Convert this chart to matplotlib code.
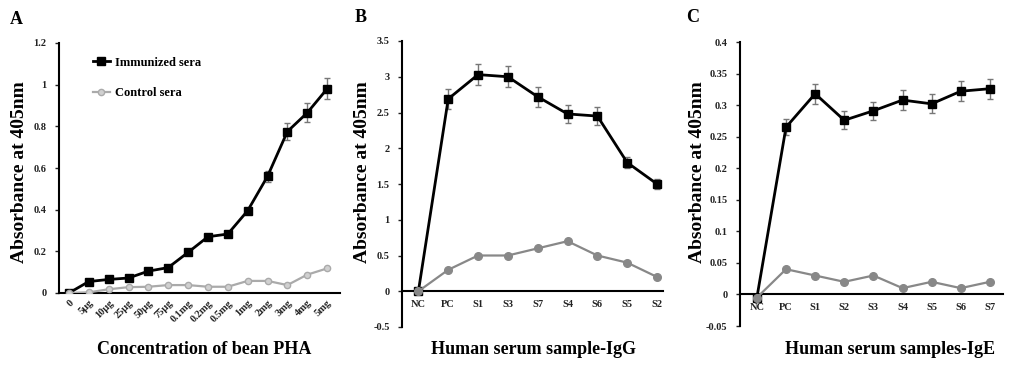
import numpy as np
import matplotlib
matplotlib.use("Agg")
import matplotlib.pyplot as plt

plt.rcParams['font.family'] = ['Liberation Serif', 'DejaVu Serif']
plt.rcParams['font.weight'] = 'bold'

# Panel A: concentration of bean PHA
conc_labels = ["0", "5μg", "10μg", "25μg", "50μg", "75μg", "0.1mg", "0.2mg",
               "0.5mg", "1mg", "2mg", "3mg", "4mg", "5mg"]
a_immunized = [0.0, 0.055, 0.065, 0.072, 0.105, 0.122, 0.195, 0.27, 0.283,
               0.395, 0.56, 0.775, 0.865, 0.98]
a_immunized_err = [0.004, 0.006, 0.006, 0.006, 0.008, 0.008, 0.008, 0.008, 0.008,
                   0.015, 0.025, 0.04, 0.045, 0.05]
a_control = [0.0, 0.003, 0.018, 0.028, 0.03, 0.038, 0.038, 0.03, 0.03,
             0.058, 0.058, 0.038, 0.088, 0.118]

# Panel B: IgG
igg_labels = ["NC", "PC", "S1", "S3", "S7", "S4", "S6", "S5", "S2"]
b_immunized = [0.0, 2.69, 3.03, 3.0, 2.72, 2.48, 2.45, 1.8, 1.5]
b_immunized_err = [0.0, 0.14, 0.15, 0.15, 0.14, 0.12, 0.12, 0.08, 0.07]
b_control = [0.0, 0.3, 0.5, 0.5, 0.6, 0.7, 0.5, 0.4, 0.2]

# Panel C: IgE
ige_labels = ["NC", "PC", "S1", "S2", "S3", "S4", "S5", "S6", "S7"]
c_immunized = [-0.005, 0.265, 0.318, 0.276, 0.291, 0.308, 0.302, 0.322, 0.326]
c_immunized_err = [0.0, 0.013, 0.016, 0.014, 0.014, 0.016, 0.015, 0.016, 0.016]
c_control = [-0.005, 0.04, 0.03, 0.02, 0.03, 0.01, 0.02, 0.01, 0.02]

W, H = 1013, 366
fig = plt.figure(figsize=(W / 100, H / 100), dpi=100)


def px_axes(left, right, top, bottom):
    return fig.add_axes([left / W, 1 - bottom / H, (right - left) / W, (bottom - top) / H])


def style_axes(ax):
    ax.spines['top'].set_visible(False)
    ax.spines['right'].set_visible(False)
    ax.spines['left'].set_linewidth(1.5)
    ax.spines['bottom'].set_linewidth(1.5)
    ax.tick_params(axis='y', length=3, width=1, labelsize=7.5, colors='#222222', pad=6)
    ax.tick_params(axis='x', length=0, labelsize=7.5, colors='#222222')
    for t in ax.get_xticklabels() + ax.get_yticklabels():
        t.set_fontweight('bold')


def draw(ax, labels, imm, imm_err, ctrl, ctrl_color, ctrl_face, ctrl_ms):
    x = np.arange(len(labels))
    ax.errorbar(x, imm, yerr=imm_err, fmt='none', ecolor='#777777', elinewidth=1,
                capsize=2.5, capthick=1, zorder=2)
    ax.plot(x, imm, color='black', lw=2, marker='s', ms=6, zorder=3,
            label='Immunized sera')
    ax.plot(x, ctrl, color=ctrl_color, lw=1.6, marker='o', ms=ctrl_ms,
            markerfacecolor=ctrl_face, markeredgecolor=ctrl_color, zorder=4,
            label='Control sera')
    ax.set_xticks(x)
    ax.set_xticklabels(labels)
    return x


# A
axA = px_axes(59, 340, 43, 293)
draw(axA, conc_labels, a_immunized, a_immunized_err, a_control, '#aaaaaa', '#d0d0d0', 4.5)
axA.set_xlim(-0.5, 13.65)
axA.set_ylim(0, 1.2)
axA.set_yticks([0, 0.2, 0.4, 0.6, 0.8, 1, 1.2])
axA.set_yticklabels(["0", "0.2", "0.4", "0.6", "0.8", "1", "1.2"])
style_axes(axA)
plt.setp(axA.get_xticklabels(), rotation=45, ha='right', rotation_mode='anchor')
axA.tick_params(axis='x', pad=4)
axA.legend(loc='upper left', bbox_to_anchor=(0.08, 0.99), frameon=False,
           prop={'family': 'Liberation Serif', 'weight': 'bold', 'size': 9},
           labelspacing=1.5, handlelength=1.4, handletextpad=0.4)

# B
axB = px_axes(402, 663, 41, 327)
draw(axB, igg_labels, b_immunized, b_immunized_err, b_control, '#888888', '#888888', 5.5)
axB.set_xlim(-0.55, 8.2)
axB.set_ylim(-0.5, 3.5)
axB.set_yticks([-0.5, 0, 0.5, 1, 1.5, 2, 2.5, 3, 3.5])
axB.set_yticklabels(["-0.5", "0", "0.5", "1", "1.5", "2", "2.5", "3", "3.5"])
axB.spines['bottom'].set_position(('data', 0))
style_axes(axB)
axB.tick_params(axis='x', pad=6)

# C
axC = px_axes(740, 1003, 42, 326)
draw(axC, ige_labels, c_immunized, c_immunized_err, c_control, '#888888', '#888888', 5.5)
axC.set_xlim(-0.58, 8.45)
axC.set_ylim(-0.05, 0.4)
axC.set_yticks([-0.05, 0, 0.05, 0.1, 0.15, 0.2, 0.25, 0.3, 0.35, 0.4])
axC.set_yticklabels(["-0.05", "0", "0.05", "0.1", "0.15", "0.2", "0.25", "0.3", "0.35", "0.4"])
axC.spines['bottom'].set_position(('data', 0))
style_axes(axC)
axC.tick_params(axis='x', pad=6)

# axis labels and panel letters
ylab = dict(fontsize=14, fontweight='bold', rotation=90, ha='center', va='center')
fig.text(20 / W, 1 - 172 / H, "Absorbance at 405nm", **ylab)
fig.text(362 / W, 1 - 172 / H, "Absorbance at 405nm", **ylab)
fig.text(697 / W, 1 - 172 / H, "Absorbance at 405nm", **ylab)

xlab = dict(fontsize=13, fontweight='bold', ha='center', va='center')
fig.text(204 / W, 1 - 350 / H, "Concentration of bean PHA", **xlab)
fig.text(533 / W, 1 - 350 / H, "Human serum sample-IgG", **xlab)
fig.text(890 / W, 1 - 350 / H, "Human serum samples-IgE", **xlab)

pl = dict(fontsize=13, fontweight='bold', ha='center', va='center')
fig.text(16 / W, 1 - 20 / H, "A", **pl)
fig.text(361 / W, 1 - 18 / H, "B", **pl)
fig.text(693 / W, 1 - 18 / H, "C", **pl)

fig.savefig("out.png", dpi=100)
